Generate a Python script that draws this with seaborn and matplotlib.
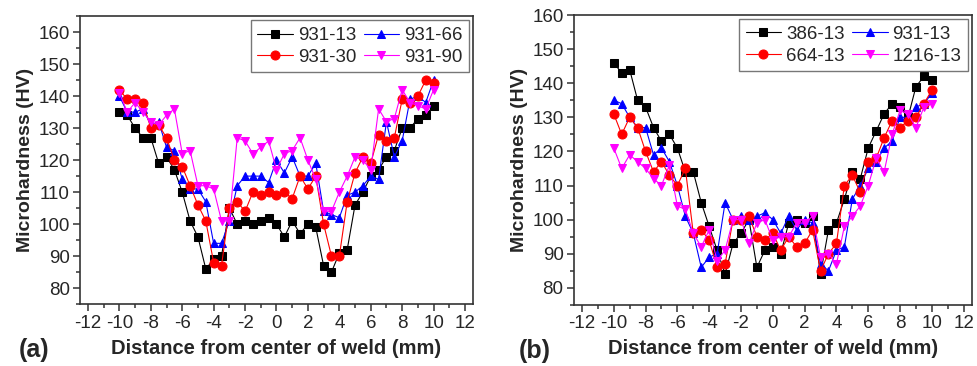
import numpy as np
import pandas as pd
import seaborn as sns
import matplotlib
matplotlib.use("Agg")
import matplotlib.pyplot as plt
from matplotlib.ticker import MultipleLocator

# distance from centre of weld (mm)
x = np.arange(-10, 10.01, 0.5)

# panel (a)
a_931_13 = [135, 134, 130, 127, 127, 119, 121, 117, 110, 101, 96, 86, 89, 90, 105,
            100, 101, 100, 101, 102, 100, 96, 101, 97, 100, 99, 87, 85, 91, 92,
            106, 110, 115, 117, 121, 123, 130, 130, 133, 134, 137]
a_931_30 = [142, 139, 139, 138, 130, 131, 127, 120, 118, 112, 106, 101, 88, 87, 105,
            107, 104, 110, 109, 110, 109, 110, 108, 115, 111, 115, 100, 90, 90, 107,
            116, 121, 119, 128, 126, 127, 139, 138, 140, 145, 144]
a_931_66 = [140, 135, 135, 136, 131, 132, 124, 123, 114, 111, 111, 107, 94, 94, 101,
            112, 115, 115, 115, 113, 120, 116, 121, 115, 115, 119, 104, 103, 102, 109,
            110, 112, 115, 114, 132, 121, 126, 139, 140, 138, 145]
a_931_90 = [141, 135, 138, 135, 132, 131, 134, 136, 122, 123, 112, 112, 111, 101, 101,
            127, 126, 122, 124, 126, 117, 122, 123, 127, 120, 114, 104, 104, 110, 115,
            121, 120, 117, 136, 132, 133, 142, 138, 137, 136, 142]

# panel (b)
b_386_13 = [146, 143, 144, 135, 133, 127, 123, 125, 121, 114, 114, 105, 98, 91, 84,
            93, 96, 100, 86, 91, 92, 90, 99, 100, 99, 101, 84, 97, 99, 106,
            114, 112, 121, 126, 131, 134, 133, 130, 139, 142, 141]
b_664_13 = [131, 125, 130, 127, 120, 114, 117, 113, 110, 115, 96, 97, 94, 86, 87,
            100, 100, 101, 95, 94, 96, 91, 95, 92, 93, 97, 85, 90, 93, 110,
            113, 108, 117, 118, 124, 129, 127, 129, 130, 134, 138]
b_931_13 = [135, 134, 130, 127, 127, 119, 121, 117, 110, 101, 96, 86, 89, 90, 105,
            100, 101, 100, 101, 102, 100, 96, 101, 97, 100, 99, 87, 85, 91, 92,
            106, 110, 115, 117, 121, 123, 130, 130, 133, 134, 137]
b_1216_13 = [121, 115, 119, 117, 115, 112, 110, 116, 104, 103, 96, 92, 97, 88, 91,
             100, 100, 93, 99, 100, 94, 95, 95, 99, 99, 101, 89, 90, 87, 98,
             101, 104, 110, 118, 114, 125, 132, 131, 127, 133, 134]

sns.set_style("ticks")
plt.rcParams['font.family'] = ['Liberation Sans', 'DejaVu Sans']
plt.rcParams['axes.unicode_minus'] = False

fig = plt.figure(figsize=(9.77, 3.66), dpi=100)
ax_a = fig.add_axes([0.082, 0.169, 0.402, 0.787])
ax_b = fig.add_axes([0.5875, 0.167, 0.407, 0.792])


def draw(ax, series, ylim, tag, tag_x):
    # series: list of (label, values, colour, marker), in legend order
    for label, vals, col, mk in series:
        ms = 6.5 if mk == 'o' else 6
        sns.lineplot(x=x, y=vals, ax=ax, color=col, marker=mk, markersize=ms,
                     markeredgecolor=col, linewidth=0.8, label=label)
    ax.set_xlim(-12.5, 12.5)
    ax.set_ylim(*ylim)
    ax.xaxis.set_major_locator(MultipleLocator(2))
    ax.xaxis.set_minor_locator(MultipleLocator(1))
    ax.yaxis.set_minor_locator(MultipleLocator(5))
    ax.set_yticks(np.arange(80, 161, 10))
    ax.tick_params(which='major', direction='out', length=5, width=1.1,
                   labelsize=13.5, pad=2.5, color='#333333')
    ax.tick_params(which='minor', direction='out', length=3, width=1.1,
                   color='#333333')
    for s in ax.spines.values():
        s.set_linewidth(1.2)
        s.set_color('#333333')
    ax.set_xlabel("Distance from center of weld (mm)", fontsize=14.5,
                  fontweight='bold', labelpad=5)
    ax.set_ylabel("Microhardness (HV)", fontsize=14, fontweight='bold', labelpad=3)
    h, l = ax.get_legend_handles_labels()
    order = [0, 2, 1, 3]
    leg = ax.legend([h[i] for i in order], [l[i] for i in order], ncol=2,
                    loc='upper right', fontsize=13.5, frameon=True, fancybox=False,
                    edgecolor='#555555', handlelength=1.9, handletextpad=0.25,
                    columnspacing=0.4, borderpad=0.35, labelspacing=0.25,
                    borderaxespad=0, bbox_to_anchor=(0.99, 0.985))
    leg.get_frame().set_linewidth(1.0)
    ax.text(tag_x, -0.16, tag, transform=ax.transAxes, fontsize=18,
            fontweight='bold', ha='left', va='center')


draw(ax_a, [("931-13", a_931_13, 'black', 's'),
            ("931-66", a_931_66, 'blue', '^'),
            ("931-30", a_931_30, 'red', 'o'),
            ("931-90", a_931_90, 'magenta', 'v')], (75, 165), "(a)", -0.155)
draw(ax_b, [("386-13", b_386_13, 'black', 's'),
            ("931-13", b_931_13, 'blue', '^'),
            ("664-13", b_664_13, 'red', 'o'),
            ("1216-13", b_1216_13, 'magenta', 'v')], (75, 160), "(b)", -0.14)

fig.savefig("out.png", dpi=100)
